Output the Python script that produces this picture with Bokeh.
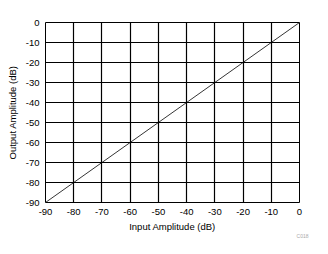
from bokeh.plotting import figure
from bokeh.models import Range1d, FixedTicker, Title
from bokeh.embed import file_html
from bokeh.resources import INLINE

input_db = [-90, -80, -70, -60, -50, -40, -30, -20, -10, 0]
output_db = [-90, -80, -70, -60, -50, -40, -30, -20, -10, 0]
ticks = [-90, -80, -70, -60, -50, -40, -30, -20, -10, 0]
tick_labels = ["-90", "-80", "-70", "-60", "-50", "-40", "-30", "-20", "-10", "0"]

FONT = "Liberation Sans"

p = figure(frame_width=254, frame_height=180, output_backend="svg", toolbar_location=None,
           x_range=Range1d(-90, 0), y_range=Range1d(-90, 0),
           min_border_left=45, min_border_right=29, min_border_top=22, min_border_bottom=52)
p.background_fill_color = "white"
p.border_fill_color = "white"
p.outline_line_color = "black"
p.outline_line_width = 1

p.line(input_db, output_db, line_color="black", line_width=0.8)

overrides = {t: s for t, s in zip(ticks, tick_labels)}
for ax in (p.xaxis[0], p.yaxis[0]):
    ax.ticker = FixedTicker(ticks=ticks)
    ax.major_label_overrides = overrides
    ax.axis_line_color = None
    ax.major_tick_line_color = None
    ax.minor_tick_line_color = None
    ax.major_tick_out = 0
    ax.major_tick_in = 0
    ax.minor_tick_out = 0
    ax.minor_tick_in = 0
    ax.major_label_text_font = FONT
    ax.major_label_text_font_size = "9.5px"
    ax.major_label_text_color = "black"
    ax.axis_label_text_font = FONT
    ax.axis_label_text_font_size = "9.5px"
    ax.axis_label_text_font_style = "normal"
    ax.axis_label_text_color = "black"

p.xaxis.axis_label = "Input Amplitude (dB)"
p.yaxis.axis_label = "Output Amplitude (dB)"
p.xaxis.major_label_standoff = 6
p.yaxis.major_label_standoff = 6
p.xaxis.axis_label_standoff = 3
p.yaxis.axis_label_standoff = 5

p.xgrid.ticker = FixedTicker(ticks=ticks)
p.ygrid.ticker = FixedTicker(ticks=ticks)
p.grid.grid_line_color = "black"
p.grid.grid_line_width = 1.2
p.grid.grid_line_alpha = 1

p.add_layout(Title(text="C018", align="right", offset=-9, standoff=-8,
                   text_font=FONT, text_font_size="5px", text_color="#aaaaaa",
                   text_font_style="normal"), "below")

open("out.html", "w").write(file_html(p, INLINE))
